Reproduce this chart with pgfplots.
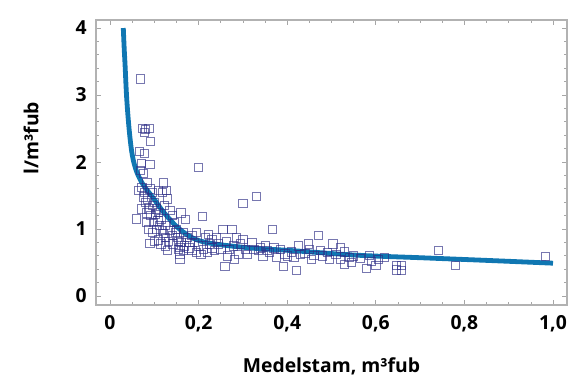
\documentclass[border=0pt]{standalone}
\usepackage{pgfplots}
\pgfplotsset{compat=1.18}
\usepackage{fontspec}
\setmainfont{Open Sans}
\definecolor{curveblue}{HTML}{1077B2}
\definecolor{markblue}{HTML}{2E2E86}
\begin{document}
\begin{tikzpicture}
\begin{axis}[
  at={(0,0)}, anchor=south west,
  scale only axis,
  width=353.25pt, height=213.75pt,
  xmin=-0.0316, xmax=1.0316,
  ymin=-0.134, ymax=4.12,
  xtick={0,0.2,0.4,0.6,0.8,1.0},
  xticklabels={0,{0,2},{0,4},{0,6},{0,8},{1,0}},
  ytick={0,1,2,3,4},
  yticklabels={0,1,2,3,4},
  minor x tick num=3,
  minor y tick num=4,
  tick align=inside,
  major tick length=4pt,
  minor tick length=2.2pt,
  tick style={gray!70, line width=0.5pt},
  axis line style={gray!60, line width=0.8pt},
  every tick label/.append style={font=\fontsize{14.5}{17}\selectfont\bfseries},
  xticklabel style={yshift=-4.5pt},
  yticklabel style={xshift=-3.5pt},
  xlabel={Medelstam, m³fub},
  ylabel={l/m³fub},
  label style={font=\fontsize{14.5}{17}\selectfont\bfseries},
  xlabel style={at={(axis description cs:0.5,-0.214)}, anchor=center},
  ylabel style={at={(axis description cs:-0.138,0.585)}, anchor=center},
  clip=false,
]
\addplot[only marks, mark=square, mark size=3.1pt, mark options={draw=markblue, draw opacity=0.65, line width=0.55pt}] table {
x y
0.069 3.24
0.073 2.50
0.080 2.49
0.088 2.50
0.077 2.44
0.091 2.31
0.066 2.16
0.078 2.13
0.070 1.98
0.090 1.96
0.068 1.88
0.075 1.83
0.083 1.70
0.090 1.60
0.095 1.55
0.120 1.69
0.128 1.58
0.110 1.58
0.118 1.55
0.130 1.45
0.075 1.48
0.080 1.40
0.065 1.58
0.060 1.15
0.083 1.24
0.070 1.30
0.088 1.30
0.100 1.40
0.105 1.30
0.092 1.20
0.098 1.10
0.110 1.25
0.115 1.15
0.122 1.35
0.135 1.28
0.140 1.20
0.145 1.10
0.150 1.00
0.125 1.05
0.105 1.00
0.095 0.95
0.090 0.79
0.109 0.84
0.130 0.68
0.158 0.63
0.158 0.55
0.158 0.73
0.160 1.24
0.170 1.14
0.165 0.95
0.175 0.88
0.155 0.82
0.140 0.90
0.120 0.93
0.135 0.98
0.185 0.90
0.190 0.80
0.200 0.75
0.208 1.19
0.199 1.92
0.195 0.95
0.215 0.88
0.222 0.92
0.230 0.85
0.240 0.87
0.210 0.70
0.205 0.62
0.220 0.65
0.230 0.72
0.245 0.78
0.255 0.99
0.275 0.99
0.259 0.44
0.265 0.60
0.270 0.70
0.285 0.87
0.300 0.85
0.305 0.70
0.290 0.62
0.280 0.55
0.300 1.38
0.330 1.49
0.320 0.80
0.335 0.68
0.345 0.60
0.350 0.75
0.367 0.99
0.360 0.65
0.375 0.58
0.385 0.70
0.391 0.44
0.400 0.60
0.410 0.66
0.420 0.38
0.425 0.75
0.430 0.62
0.450 0.70
0.448 0.78
0.460 0.61
0.470 0.91
0.480 0.60
0.495 0.55
0.503 0.78
0.520 0.72
0.529 0.66
0.529 0.47
0.545 0.50
0.550 0.60
0.586 0.61
0.578 0.41
0.600 0.46
0.605 0.55
0.647 0.46
0.658 0.46
0.658 0.38
0.647 0.39
0.741 0.68
0.780 0.46
0.982 0.59
0.072 1.62
0.078 1.55
0.085 1.45
0.095 1.35
0.102 1.22
0.108 1.12
0.112 1.05
0.118 0.98
0.125 0.88
0.132 0.82
0.142 0.78
0.148 0.95
0.152 0.88
0.160 0.80
0.168 0.75
0.178 0.72
0.185 0.68
0.195 0.65
0.082 1.10
0.087 1.00
0.100 0.82
0.115 0.78
0.125 0.75
0.155 0.70
0.165 0.68
0.180 0.80
0.225 0.78
0.235 0.68
0.250 0.70
0.262 0.82
0.278 0.75
0.295 0.78
0.310 0.62
0.325 0.70
0.340 0.72
0.355 0.68
0.370 0.72
0.395 0.63
0.415 0.58
0.440 0.64
0.455 0.55
0.475 0.68
0.490 0.65
0.510 0.62
0.520 0.55
0.540 0.58
0.565 0.56
0.590 0.52
0.620 0.58
};
\addplot[curveblue, line width=3.6pt, smooth, tension=0.55, line cap=butt] coordinates {
(0.030,4.00) (0.032,3.70) (0.034,3.45) (0.0377,2.95) (0.0436,2.46)
(0.0504,2.10) (0.060,1.86) (0.075,1.66) (0.098,1.46) (0.120,1.26)
(0.150,1.04) (0.180,0.89) (0.210,0.81) (0.256,0.76) (0.330,0.71)
(0.406,0.68) (0.556,0.61) (0.707,0.57) (0.857,0.53) (1.000,0.49)
};
\end{axis}
\pgfresetboundingbox
\path[use as bounding box] (-72pt,-54.75pt) rectangle (355.5pt,228.75pt);
\end{tikzpicture}
\end{document}
